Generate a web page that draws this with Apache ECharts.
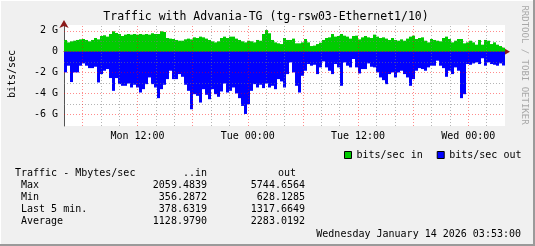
<!DOCTYPE html>
<html><head><meta charset="utf-8">
<script src="https://cdn.jsdelivr.net/npm/echarts@6/dist/echarts.min.js"></script>
<style>
html,body{margin:0;padding:0;background:#F0F0F0;}
#c{width:535px;height:246px;box-shadow: inset -2px -2px 0 #9a9a9a, inset 1px 1px 0 #ffffff;}
</style></head><body><div id="c"></div>
<script>
// Traffic in (Gbit/s), one value per ~20 min slot, Mon 04:00 -> Wed 04:00
const inG = [
1.12,0.89,0.99,1.05,1.12,1.18,1.21,1.12,0.99,1.12,1.31,1.18,1.5,1.57,1.44,1.69,1.95,1.79,1.69,1.5,1.63,1.69,1.63,1.69,1.63,
1.69,1.63,1.69,1.63,1.76,1.69,1.69,1.95,1.88,1.31,1.25,1.21,1.12,1.05,1.05,1.18,1.25,1.18,1.37,1.31,1.44,1.37,1.25,1.12,0.99,
0.89,0.99,1.31,1.44,1.31,1.44,1.44,1.25,1.12,0.99,0.89,1.05,0.99,0.89,1.12,1.05,1.69,2.06,1.76,1.12,0.89,0.8,0.73,1.31,1.12,
1.12,1.25,0.8,0.8,0.89,1.21,0.89,0.54,0.58,0.73,0.86,1.12,1.31,1.37,1.69,1.44,1.5,1.69,1.53,1.44,1.25,1.5,1.53,1.18,1.37,
1.5,1.37,1.31,1.63,1.44,1.31,1.37,1.25,1.12,1.31,1.12,1.05,1.18,1.05,1.25,1.44,1.53,1.21,1.31,1.37,1.05,0.89,1.21,1.12,1.05,
0.99,1.31,1.44,1.21,0.89,1.05,1.21,1.21,0.8,0.89,1.05,0.89,0.67,1.12,0.67,1.12,1.05,0.73,0.89,0.67,0.54,0.38
];
// Traffic out (Gbit/s), drawn below zero
const outG = [
1.98,1.34,2.9,1.98,1.98,1.34,1.12,1.34,1.57,1.57,1.44,2.94,2.14,1.82,1.66,2.52,3.74,2.52,3.1,3.26,3.26,3.04,3.42,3.16,3.42,
3.9,3.58,3.1,2.46,3.1,3.42,4.44,3.58,3.16,2.62,1.82,2.62,2.62,2.14,2.4,3.16,3.74,5.5,4.06,4.22,4.86,3.58,4.12,4.54,3.58,
4.06,4.31,3.8,3.04,3.9,3.74,3.42,3.99,4.44,5.18,5.95,5.02,3.74,3.1,3.42,3.16,3.48,3.04,3.42,3.26,3.58,2.62,2.84,3.42,2.14,
1.02,1.98,3.26,3.9,2.3,1.82,1.18,1.34,1.25,2.14,1.5,0.93,1.5,1.82,2.14,1.18,1.5,3.26,1.02,1.34,1.5,0.7,1.5,2.08,1.66,
1.66,1.12,1.44,1.5,1.98,2.46,2.72,3.1,2.14,1.98,2.46,1.98,1.82,2.14,2.46,3.26,2.62,1.82,1.57,1.66,1.82,1.5,1.34,1.34,0.86,
1.34,1.57,2.4,1.82,2.14,1.5,1.82,4.44,4.06,1.18,1.25,1.12,1.02,1.18,0.63,1.34,1.02,1.18,1.25,1.34,1.12,1.32
];
const slots = inG.map((_, i) => String(i));
const xLabelHours = [12, 24, 36, 48];
const xLabels = ['Mon 12:00', 'Tue 00:00', 'Tue 12:00', 'Wed 00:00'];
const xMajorHours = [6, 12, 18, 24, 30, 36, 42, 48];
const xMinorHours = [8, 10, 14, 16, 20, 22, 26, 28, 32, 34, 38, 40, 44, 46, 50];
const yLabelValues = [2, 0, -2, -4, -6];
const yLabels = ['2 G', '0', '-2 G', '-4 G', '-6 G'];
const yMinorValues = [1, -1, -3, -5];
const timeStart = 4, timeEnd = 52;
const yMin = -7.1, yMax = 2.55;
const seriesNames = ['bits/sec in', 'bits/sec out'];
const titleText = 'Traffic with Advania-TG (tg-rsw03-Ethernet1/10)';
const yTitle = 'bits/sec';
const sideText = 'RRDTOOL / TOBI OETIKER';
const statsHeader = ['Traffic - Mbytes/sec', '..in', 'out'];
const statLabels = ['Max', 'Min', 'Last 5 min.', 'Average'];
const statIn = [2059.4839, 356.2872, 378.6319, 1128.9790];
const statOut = [5744.6564, 628.1285, 1317.6649, 2283.0192];
const dateText = 'Wednesday January 14 2026 03:53:00';

const FONT = '"DejaVu Sans Mono", monospace';
const majorStyle = {color: 'rgba(255,0,0,0.45)', type: [1, 2], width: 1};
const minorStyle = {color: 'rgba(120,120,120,0.55)', type: [1, 2], width: 1};

const gridLines = [].concat(
  yMinorValues.map(v => ({yAxis: v, lineStyle: minorStyle})),
  xMinorHours.map(v => ({xAxis: v, lineStyle: minorStyle})),
  yLabelValues.map(v => ({yAxis: v, lineStyle: majorStyle})),
  xMajorHours.map(v => ({xAxis: v, lineStyle: majorStyle}))
);

const graphics = [
  {type: 'text', x: 266, y: 17, style: {text: titleText, font: '11.5px ' + FONT, fill: '#000', align: 'center', verticalAlign: 'middle'}},
  {type: 'text', x: 12, y: 74, rotation: Math.PI / 2, style: {text: yTitle, font: '10px ' + FONT, fill: '#000', align: 'center', verticalAlign: 'middle'}},
  {type: 'text', x: 524, y: 65, rotation: -Math.PI / 2, style: {text: sideText, font: '9px ' + FONT, fill: '#a8a8a8', align: 'center', verticalAlign: 'middle'}},
  {type: 'text', x: 15, y: 173.5, style: {text: statsHeader[0], font: '10px ' + FONT, fill: '#000', align: 'left', verticalAlign: 'middle'}},
  {type: 'text', x: 207, y: 173.5, style: {text: statsHeader[1], font: '10px ' + FONT, fill: '#000', align: 'right', verticalAlign: 'middle'}},
  {type: 'text', x: 296, y: 173.5, style: {text: statsHeader[2], font: '10px ' + FONT, fill: '#000', align: 'right', verticalAlign: 'middle'}},
  {type: 'text', x: 521, y: 234, style: {text: dateText, font: '10px ' + FONT, fill: '#000', align: 'right', verticalAlign: 'middle'}}
];
statLabels.forEach((lab, k) => {
  const y = 185.6 + k * 11.8;
  graphics.push({type: 'text', x: 21, y, style: {text: lab, font: '10px ' + FONT, fill: '#000', align: 'left', verticalAlign: 'middle'}});
  graphics.push({type: 'text', x: 207, y, style: {text: statIn[k].toFixed(4), font: '10px ' + FONT, fill: '#000', align: 'right', verticalAlign: 'middle'}});
  graphics.push({type: 'text', x: 305, y, style: {text: statOut[k].toFixed(4), font: '10px ' + FONT, fill: '#000', align: 'right', verticalAlign: 'middle'}});
});

const chart = echarts.init(document.getElementById('c'), null, {renderer: 'canvas'});
chart.setOption({
  animation: false,
  backgroundColor: 'transparent',
  textStyle: {fontFamily: FONT},
  grid: {left: 64, top: 25, width: 441, height: 101, show: true, backgroundColor: '#ffffff', borderWidth: 0, containLabel: false},
  legend: {
    data: seriesNames, left: 339, top: 145, icon: 'rect', itemWidth: 7, itemHeight: 7, itemGap: 14,
    itemStyle: {borderColor: '#000', borderWidth: 1},
    textStyle: {fontFamily: FONT, fontSize: 10, color: '#000'}
  },
  xAxis: [
    {type: 'category', data: slots, gridIndex: 0, position: 'bottom', boundaryGap: true,
     axisLine: {show: true, lineStyle: {color: '#555', width: 1}}, axisTick: {show: false}, axisLabel: {show: false}, splitLine: {show: false}},
    {type: 'value', min: timeStart, max: timeEnd, gridIndex: 0, position: 'bottom',
     axisLine: {show: true, symbol: ['none', 'arrow'], symbolSize: [7, 8], symbolOffset: [0, 5], lineStyle: {color: '#8b1a1a', width: 0}},
     axisTick: {show: true, customValues: xMajorHours, length: 3, lineStyle: {color: 'rgba(255,0,0,0.6)'}},
     axisLabel: {show: true, customValues: xLabelHours, margin: 5, fontFamily: FONT, fontSize: 10, color: '#000',
       formatter: v => xLabels[xLabelHours.indexOf(v)]},
     splitLine: {show: false}}
  ],
  yAxis: [
    {type: 'value', min: yMin, max: yMax, position: 'left',
     axisLine: {show: true, lineStyle: {color: '#555', width: 1}}, axisTick: {show: false},
     axisLabel: {show: true, customValues: yLabelValues, margin: 6, fontFamily: FONT, fontSize: 10, color: '#000',
       formatter: v => yLabels[yLabelValues.indexOf(v)]},
     splitLine: {show: false}},
    {type: 'value', min: yMin, max: yMax, position: 'left',
     axisLine: {show: true, symbol: ['none', 'arrow'], symbolSize: [7, 8], symbolOffset: [0, 5], lineStyle: {color: '#8b1a1a', width: 0}},
     axisTick: {show: false}, axisLabel: {show: false}, splitLine: {show: false}}
  ],
  series: [
    {type: 'line', xAxisIndex: 1, yAxisIndex: 0, data: [], silent: true, z: 1,
     markLine: {silent: true, symbol: ['none', 'none'], label: {show: false}, animation: false, data: gridLines}},
    {name: seriesNames[0], type: 'bar', xAxisIndex: 0, yAxisIndex: 0, data: inG, z: 3,
     barCategoryGap: '0%', barGap: '-100%', itemStyle: {color: '#00CC00'}},
    {name: seriesNames[1], type: 'bar', xAxisIndex: 0, yAxisIndex: 0, data: outG.map(v => -v), z: 3,
     barCategoryGap: '0%', barGap: '-100%', itemStyle: {color: '#0000FF'}}
  ],
  graphic: graphics
});
</script></body></html>
